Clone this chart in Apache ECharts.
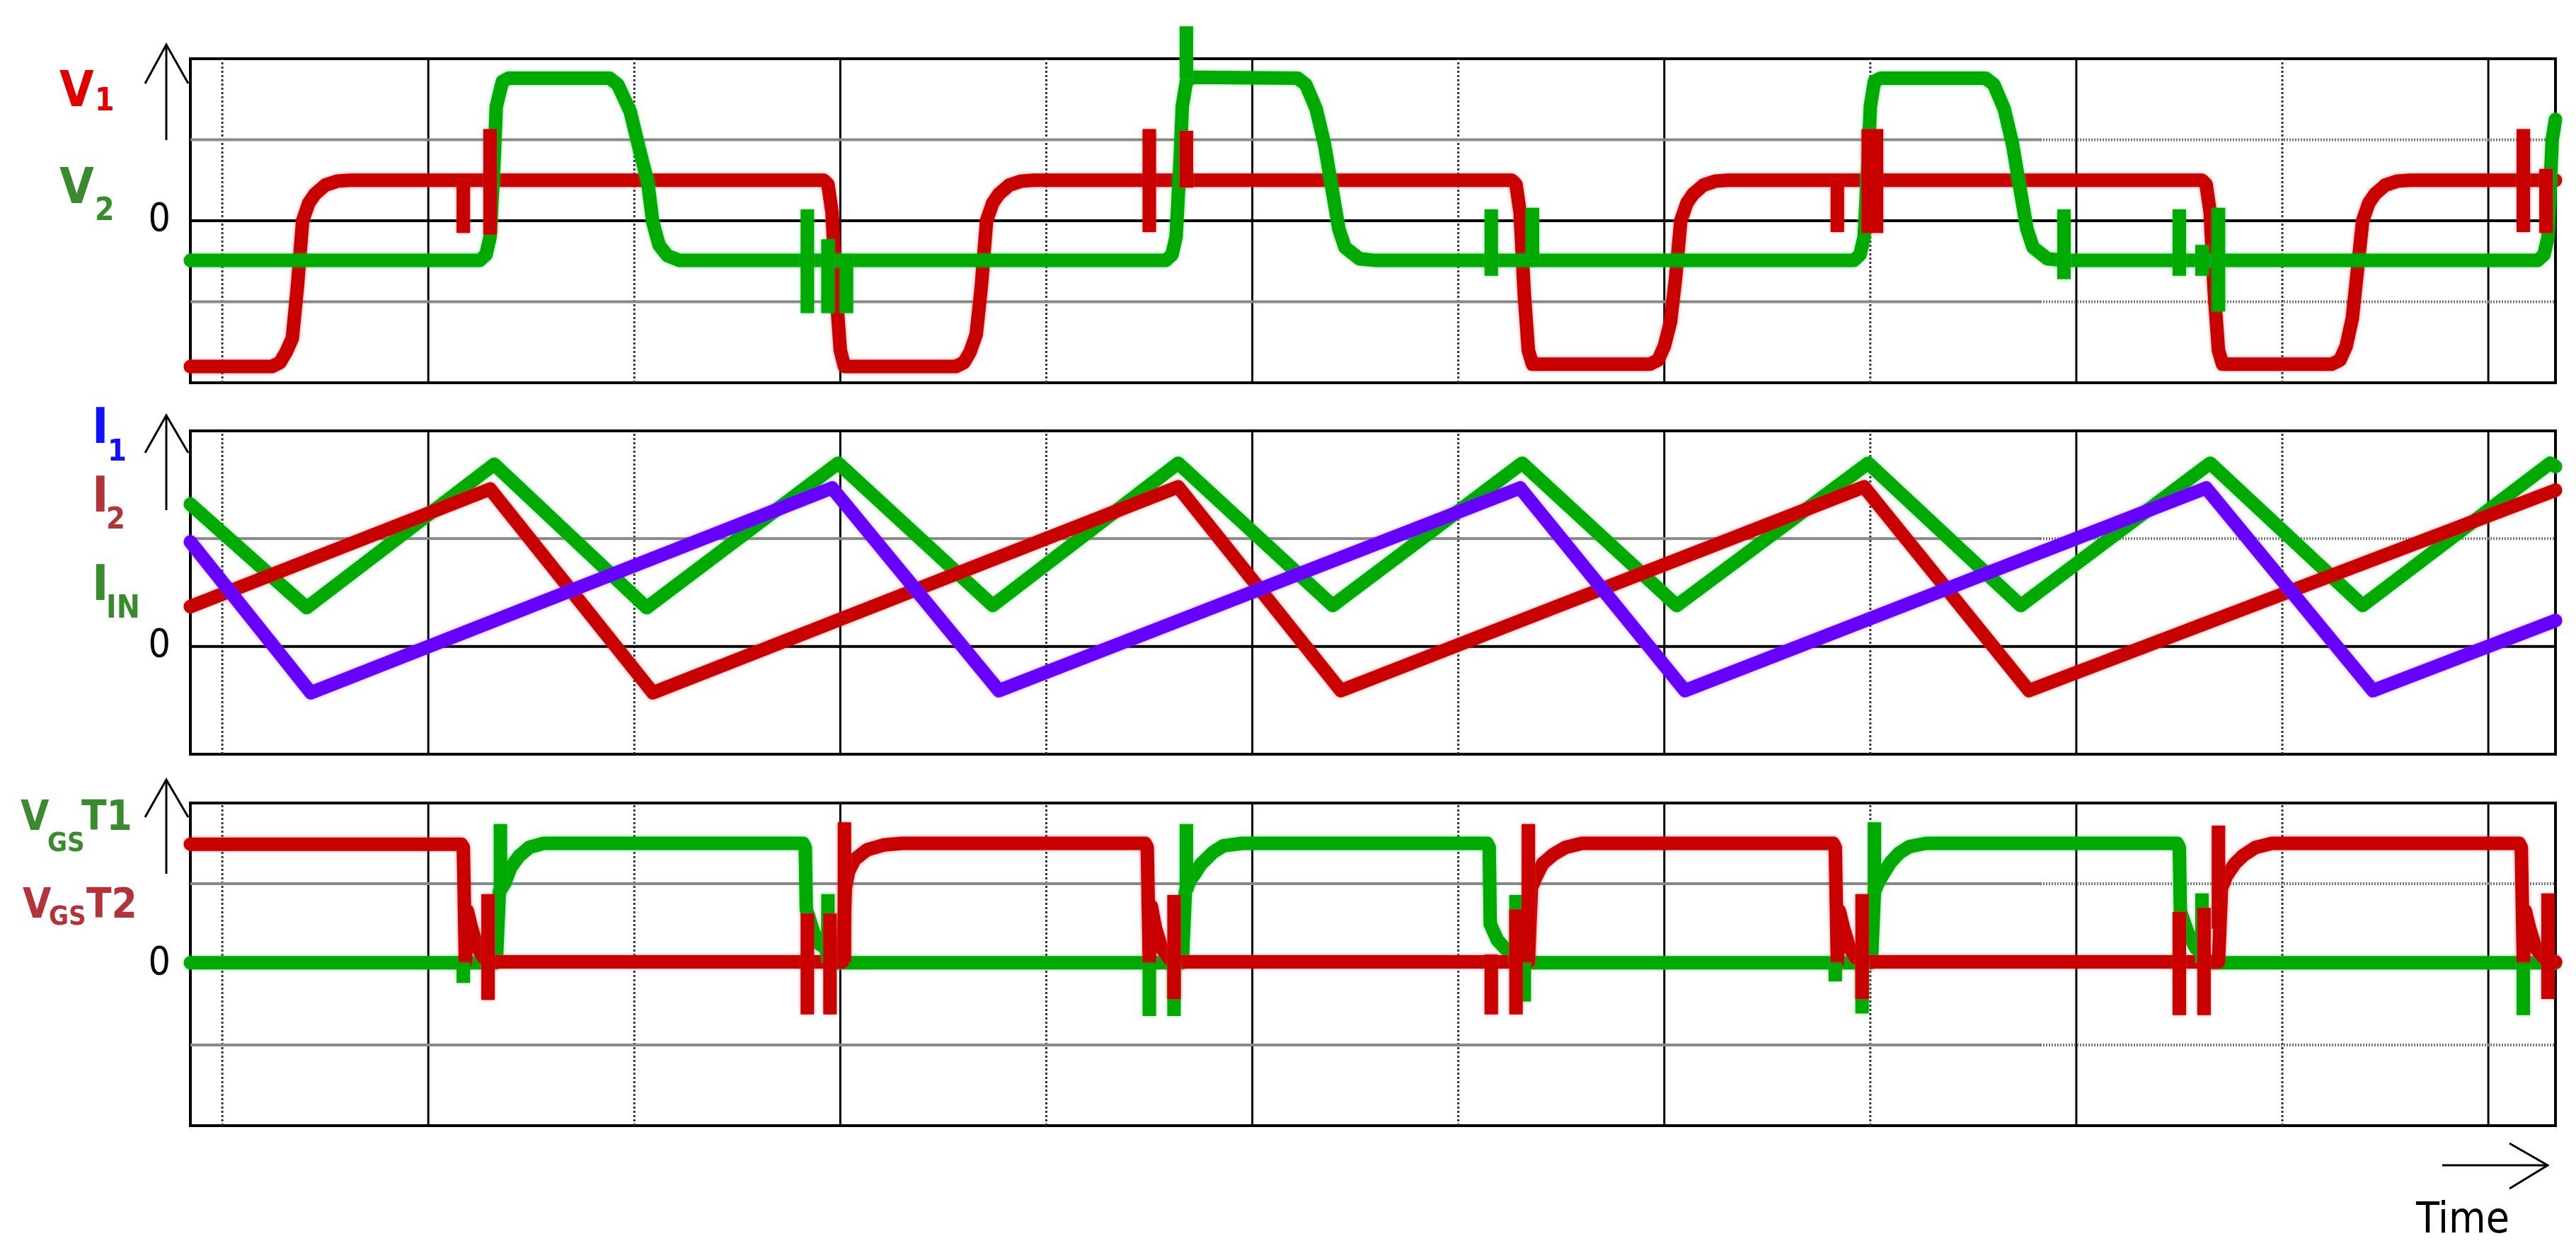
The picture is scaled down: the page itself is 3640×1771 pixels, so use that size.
<!DOCTYPE html>
<html>
<head>
<meta charset="utf-8">
<title>Waveforms</title>
<script src="https://cdn.jsdelivr.net/npm/echarts@6/dist/echarts.min.js"></script>
<style>
  html, body { margin: 0; padding: 0; background: #fff; }
  #chart { width: 3640px; height: 1771px; }
</style>
</head>
<body>
<div id="chart"></div>
<script>
// time axis in scope divisions, 0 = first (dotted) vertical gridline
const timeRange = [-0.155, 11.326]
const divTicks = [0, 1, 2, 3, 4, 5, 6, 7, 8, 9, 10, 11]
const grayDottedFrom = 8.825

// panel 1: V1 (red), V2 (green)
const v1Trace = [
  [-0.155, -1.8], [0.24, -1.8], [0.28, -1.75], [0.31, -1.62], [0.34, -1.45], [0.365, -0.8], [0.39, 0], [0.42, 0.22], [0.45, 0.33], [0.5, 0.44], [0.56, 0.49], [0.62, 0.5],
  [2.92, 0.5], [2.94, 0.45], [2.96, 0.1], [2.98, -0.9], [3.0, -1.6], [3.02, -1.8],
  [3.56, -1.8], [3.6, -1.75], [3.63, -1.62], [3.66, -1.4], [3.685, -0.8], [3.71, 0], [3.74, 0.22], [3.77, 0.33], [3.82, 0.44], [3.88, 0.49], [3.94, 0.5],
  [6.26, 0.5], [6.28, 0.45], [6.3, 0.1], [6.32, -0.9], [6.34, -1.6], [6.36, -1.77],
  [6.93, -1.77], [6.97, -1.72], [7.0, -1.55], [7.03, -1.25], [7.055, -0.7], [7.08, 0], [7.11, 0.22], [7.14, 0.33], [7.19, 0.44], [7.25, 0.49], [7.31, 0.5],
  [9.61, 0.5], [9.63, 0.45], [9.65, 0.1], [9.67, -0.9], [9.69, -1.6], [9.71, -1.77],
  [10.24, -1.77], [10.28, -1.72], [10.31, -1.55], [10.34, -1.2], [10.365, -0.6], [10.39, 0], [10.42, 0.22], [10.45, 0.33], [10.5, 0.44], [10.56, 0.49], [10.62, 0.5],
  [11.326, 0.5]
]
const v2Trace = [
  [-0.155, -0.49], [1.25, -0.49], [1.28, -0.42], [1.3, -0.2], [1.32, 0.77], [1.33, 1.41], [1.36, 1.72], [1.39, 1.76],
  [1.88, 1.76], [1.92, 1.68], [1.98, 1.35], [2.02, 0.93], [2.065, 0.48], [2.09, -0.02], [2.12, -0.3], [2.16, -0.43], [2.22, -0.49],
  [4.58, -0.49], [4.61, -0.42], [4.63, -0.2], [4.65, 0.77], [4.66, 1.41], [4.68, 1.72], [4.71, 1.77],
  [5.22, 1.76], [5.26, 1.68], [5.31, 1.38], [5.35, 0.95], [5.38, 0.5], [5.42, -0.1], [5.45, -0.33], [5.52, -0.47], [5.6, -0.49],
  [7.92, -0.49], [7.95, -0.42], [7.97, -0.2], [7.99, 0.77], [8.0, 1.41], [8.02, 1.72], [8.05, 1.76],
  [8.56, 1.76], [8.6, 1.68], [8.65, 1.38], [8.69, 0.95], [8.72, 0.5], [8.76, -0.1], [8.79, -0.33], [8.86, -0.47], [8.94, -0.49],
  [11.24, -0.49], [11.27, -0.42], [11.29, -0.2], [11.31, 1.0], [11.326, 1.25]
]
// spikes: [time, from, to]
const v1Spikes = [
  [1.17, 0.5, -0.15], [1.3, 1.13, -0.17], [4.5, 1.13, -0.14], [4.68, 1.11, 0.41],
  [7.84, 0.5, -0.14], [7.99, 1.13, -0.15], [8.03, 1.13, -0.15], [11.17, 1.13, -0.14], [11.28, 0.64, -0.15]
]
const v2Spikes = [
  [2.84, 0.14, -1.14], [2.94, -0.23, -1.14], [3.03, -0.41, -1.14], [4.68, 1.76, 2.4],
  [6.16, 0.14, -0.68], [6.36, 0.16, -0.49], [8.94, 0.14, -0.72], [9.5, 0.14, -0.68], [9.61, -0.3, -0.68], [9.69, 0.16, -1.12]
]

// panel 2: I1 (violet), I2 (red), IIN (green)
const i1Trace = [[-0.155, 0.97], [0.43, -0.43], [2.96, 1.47], [3.77, -0.41], [6.3, 1.47], [7.1, -0.41], [9.63, 1.47], [10.44, -0.41], [11.326, 0.24]]
const i2Trace = [[-0.155, 0.37], [1.3, 1.46], [2.09, -0.43], [4.64, 1.48], [5.43, -0.41], [7.97, 1.48], [8.77, -0.41], [11.326, 1.45]]
const iinTrace = [
  [-0.155, 1.32], [0.41, 0.36], [1.32, 1.69], [2.06, 0.36], [2.99, 1.7], [3.74, 0.38], [4.64, 1.7], [5.39, 0.38],
  [6.31, 1.7], [7.06, 0.38], [7.99, 1.7], [8.73, 0.38], [9.65, 1.7], [10.39, 0.38], [11.3, 1.7], [11.326, 1.67]
]

// panel 3: VGS T1 (green), VGS T2 (red)
const vgs1Trace = [
  [-0.155, 0.02], [1.33, 0.02], [1.345, 0.9], [1.37, 1.0], [1.4, 1.2], [1.44, 1.34], [1.49, 1.45], [1.56, 1.5],
  [2.82, 1.5], [2.83, 1.45], [2.835, 0.68], [2.87, 0.4], [2.9, 0.25], [2.93, 0.2], [2.945, 0.02],
  [4.66, 0.02], [4.675, 0.9], [4.7, 1.05], [4.72, 1.12], [4.75, 1.24], [4.81, 1.39], [4.86, 1.47], [4.95, 1.5],
  [6.14, 1.5], [6.15, 1.45], [6.155, 0.5], [6.19, 0.3], [6.23, 0.19], [6.27, 0.15], [6.285, 0.02],
  [8.005, 0.02], [8.02, 0.9], [8.04, 1.02], [8.07, 1.15], [8.1, 1.27], [8.14, 1.38], [8.19, 1.46], [8.27, 1.5],
  [9.49, 1.5], [9.5, 1.45], [9.505, 0.66], [9.54, 0.4], [9.58, 0.2], [9.6, 0.17], [9.615, 0.02],
  [11.326, 0.02]
]
const vgs2Trace = [
  [-0.155, 1.49], [1.16, 1.49], [1.17, 1.45], [1.18, 0.02], [1.19, 0.66], [1.21, 0.45], [1.24, 0.2], [1.27, 0.08], [1.31, 0.03],
  [3.01, 0.03], [3.025, 0.95], [3.04, 1.15], [3.07, 1.3], [3.13, 1.42], [3.21, 1.48], [3.3, 1.5],
  [4.48, 1.5], [4.49, 1.45], [4.5, 0.02], [4.51, 0.72], [4.53, 0.45], [4.56, 0.2], [4.6, 0.06], [4.64, 0.03],
  [6.34, 0.03], [6.355, 0.95], [6.38, 1.1], [6.41, 1.25], [6.46, 1.36], [6.52, 1.45], [6.6, 1.5],
  [7.82, 1.5], [7.83, 1.45], [7.84, 0.02], [7.85, 0.66], [7.87, 0.45], [7.9, 0.2], [7.93, 0.08], [7.97, 0.03],
  [9.69, 0.03], [9.705, 0.95], [9.73, 1.1], [9.77, 1.25], [9.81, 1.35], [9.87, 1.45], [9.95, 1.5],
  [11.15, 1.5], [11.16, 1.45], [11.17, 0.02], [11.18, 0.66], [11.2, 0.45], [11.23, 0.2], [11.27, 0.08], [11.326, 0.03]
]
const vgs1Spikes = [
  [1.17, 0.02, -0.23], [1.35, 0.9, 1.74], [2.94, 0.87, 0.02], [4.5, 0.02, -0.64], [4.62, 0.02, -0.64], [4.68, 0.9, 1.74],
  [6.28, 0.86, 0.02], [6.32, 0.02, -0.46], [7.83, 0.02, -0.21], [7.96, 0.02, -0.61], [8.02, 0.9, 1.76], [9.61, 0.88, 0.02], [11.17, 0.02, -0.63]
]
const vgs2Spikes = [
  [1.29, 0.87, -0.44], [2.84, 0.63, -0.62], [2.95, 0.63, -0.62], [3.02, 0.03, 1.76], [4.62, 0.86, -0.43],
  [6.16, 0.12, -0.62], [6.28, 0.68, -0.62], [6.34, 0.03, 1.74], [7.96, 0.87, -0.43],
  [9.5, 0.65, -0.63], [9.62, 0.7, -0.63], [9.69, 0.44, 1.72], [11.29, 0.88, -0.43]
]

// y ranges per panel (in divisions) and the gray levels
const yRanges = [[-2, 2], [-1, 2], [-2, 2]]
const grayLevels = [[-1, 1], [1], [-1, 1]]

const RED = '#c80000'
const GREEN = '#00aa00'
const VIOLET = '#6600ff'
const HALO = { [RED]: 'rgba(230,60,60,0.55)', [GREEN]: 'rgba(40,200,90,0.55)', [VIOLET]: 'rgba(140,60,255,0.5)' }
const FONT = '"Liberation Sans Narrow", "Arial Narrow", "DejaVu Sans Condensed", sans-serif'

function spikeData(list) {
  const out = []
  list.forEach(([t, a, b]) => {
    out.push([t, a], [t, b], [t, null])
  })
  return out
}

function vLineData(ticks, yr) {
  const out = []
  ticks.forEach((t) => {
    out.push([t, yr[0]], [t, yr[1]], [t, null])
  })
  return out
}

function hLineData(levels, x0, x1) {
  const out = []
  levels.forEach((v) => {
    out.push([x0, v], [x1, v], [null, v])
  })
  return out
}

const base = { type: 'line', symbol: 'none', showSymbol: false, silent: true, animation: false, connectNulls: false }

function gridSeries(i) {
  const yr = yRanges[i]
  return [
    { ...base, z: 1, xAxisIndex: i, yAxisIndex: i, data: vLineData(divTicks.filter(t => t % 2 === 1), yr), lineStyle: { color: '#000', width: 3 } },
    { ...base, z: 1, xAxisIndex: i, yAxisIndex: i, data: vLineData(divTicks.filter(t => t % 2 === 0), yr), lineStyle: { color: '#333', width: 3, type: [3, 3] } },
    { ...base, z: 1, xAxisIndex: i, yAxisIndex: i, data: hLineData(grayLevels[i], timeRange[0], grayDottedFrom), lineStyle: { color: '#888', width: 4 } },
    { ...base, z: 1, xAxisIndex: i, yAxisIndex: i, data: hLineData(grayLevels[i], grayDottedFrom, timeRange[1]), lineStyle: { color: '#777', width: 4, type: [2, 2] } },
    { ...base, z: 1, xAxisIndex: i, yAxisIndex: i, data: hLineData([0], timeRange[0], timeRange[1]), lineStyle: { color: '#000', width: 4 } },
  ]
}

function trace(i, data, color, width) {
  return {
    ...base, z: 3, xAxisIndex: i, yAxisIndex: i, data,
    lineStyle: { color, width, join: 'round', cap: 'round', shadowColor: HALO[color], shadowBlur: 5 },
  }
}

function spikes(i, list, color) {
  return {
    ...base, z: 4, clip: false, xAxisIndex: i, yAxisIndex: i, data: spikeData(list),
    lineStyle: { color, width: 19, cap: 'butt', shadowColor: HALO[color], shadowBlur: 4 },
  }
}

function txt(text, x, y, size, color, bold) {
  return {
    type: 'text', x, y, silent: true,
    style: { text, fill: color, font: `${bold ? 'bold ' : ''}${size}px ${FONT}`, align: 'left', verticalAlign: 'middle', textAlign: 'left', textVerticalAlign: 'middle' },
  }
}

function upArrow(x, top, bottom, wing) {
  return [
    { type: 'line', silent: true, shape: { x1: x, y1: top, x2: x, y2: bottom }, style: { stroke: '#000', lineWidth: 3 } },
    { type: 'polyline', silent: true, shape: { points: [[x - 30, top + wing], [x, top], [x + 31, top + wing]] }, style: { stroke: '#000', lineWidth: 3, fill: null } },
  ]
}

const gridTops = [83, 609, 1135]
const gridHeights = [458, 457, 456]

const chart = echarts.init(document.getElementById('chart'))
chart.setOption({
  animation: false,
  backgroundColor: '#fff',
  grid: gridTops.map((top, i) => ({ left: 269, right: 29, top, height: gridHeights[i], show: true, borderColor: '#000', borderWidth: 4, backgroundColor: 'transparent' })),
  xAxis: gridTops.map((_, i) => ({ type: 'value', gridIndex: i, min: timeRange[0], max: timeRange[1], show: false })),
  yAxis: yRanges.map((yr, i) => ({
    type: 'value', gridIndex: i, min: yr[0], max: yr[1], interval: 1,
    axisLine: { show: false }, axisTick: { show: false }, splitLine: { show: false },
    axisLabel: { margin: 28, color: '#000', fontSize: 55, fontFamily: FONT, padding: [18, 0, 0, 0], formatter: v => (v === 0 ? '0' : '') },
  })),
  series: [
    ...gridSeries(0), ...gridSeries(1), ...gridSeries(2),
    trace(0, v1Trace, RED, 19), trace(0, v2Trace, GREEN, 19),
    spikes(0, v1Spikes, RED), spikes(0, v2Spikes, GREEN),
    trace(1, iinTrace, GREEN, 19), trace(1, i2Trace, RED, 19), trace(1, i1Trace, VIOLET, 19),
    trace(2, vgs1Trace, GREEN, 19), trace(2, vgs2Trace, RED, 19),
    spikes(2, vgs1Spikes, GREEN), spikes(2, vgs2Spikes, RED),
  ],
  graphic: [
    ...upArrow(235, 63, 198, 55),
    ...upArrow(235, 587, 721, 53),
    ...upArrow(235, 1102, 1235, 53),
    { type: 'line', silent: true, shape: { x1: 3451, y1: 1647, x2: 3600, y2: 1647 }, style: { stroke: '#000', lineWidth: 3 } },
    { type: 'polyline', silent: true, shape: { points: [[3546, 1616], [3600, 1647], [3546, 1680]] }, style: { stroke: '#000', lineWidth: 3, fill: null } },
    txt('Time', 3414, 1726, 60, '#000', false),
    txt('V', 84, 132, 70, '#e00000', true), txt('1', 134, 145, 44, '#e00000', true),
    txt('V', 84, 269, 70, '#3a8a2e', true), txt('2', 134, 300, 44, '#3a8a2e', true),
    txt('I', 130, 608, 70, '#1010ff', true), txt('1', 152, 640, 43, '#1010ff', true),
    txt('I', 130, 705, 70, '#b3333a', true), txt('2', 150, 736, 43, '#b3333a', true),
    txt('I', 130, 830, 70, '#3a8a2e', true), txt('IN', 150, 862, 44, '#3a8a2e', true),
    txt('V', 29, 1158, 58, '#3a8a2e', true), txt('GS', 67, 1193, 38, '#3a8a2e', true), txt('T1', 115, 1158, 58, '#3a8a2e', true),
    txt('V', 32, 1282, 58, '#b3333a', true), txt('GS', 69, 1297, 38, '#b3333a', true), txt('T2', 122, 1282, 58, '#b3333a', true),
  ],
})
</script>
</body>
</html>
